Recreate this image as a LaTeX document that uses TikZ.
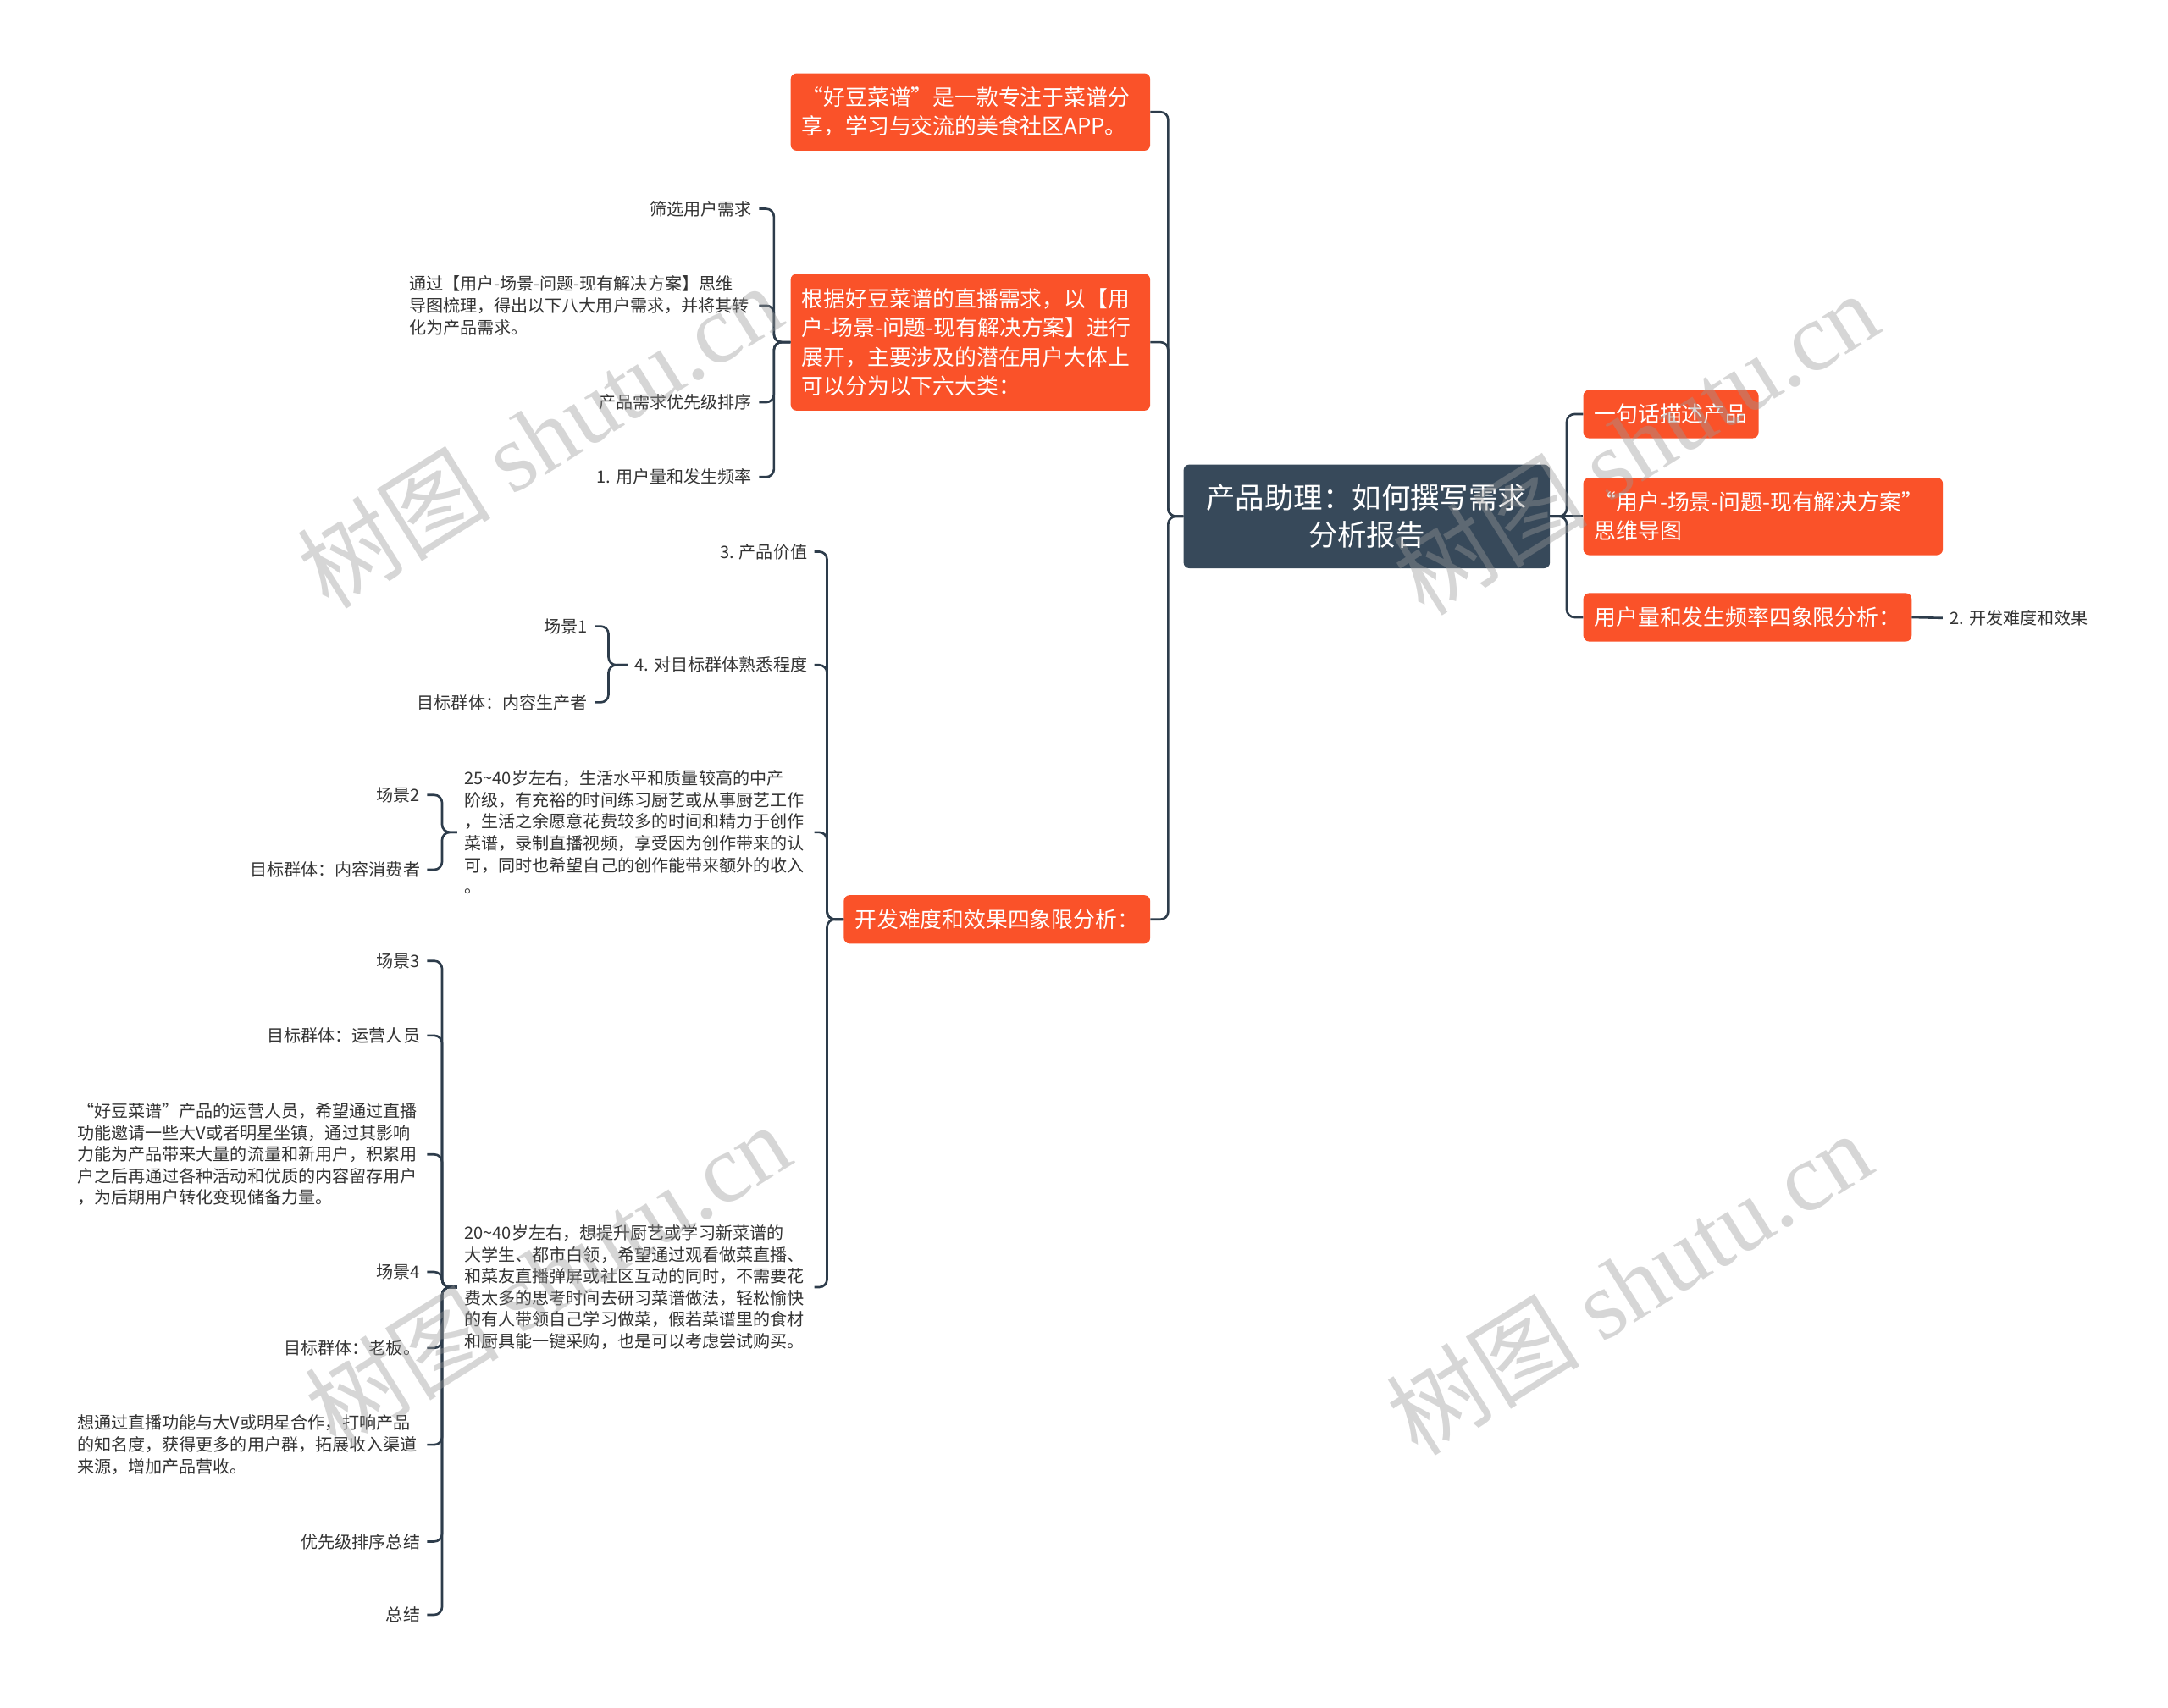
\documentclass[tikz,border=0pt]{standalone}
\usepackage{fontspec}
\setmainfont{Noto Sans CJK SC}
\newfontfamily\markfont{Liberation Serif}

\definecolor{topicred}{RGB}{250,82,41}
\definecolor{rootgray}{RGB}{55,73,90}
\definecolor{linkgray}{RGB}{45,60,75}
\definecolor{leafgray}{RGB}{51,51,51}

\begin{document}
\begin{tikzpicture}[x=0.05cm, y=-0.05cm,
  root/.style={fill=rootgray, text=white, rounded corners=6pt, align=center,
    minimum width=13.25cm, minimum height=3.75cm, font=\fontsize{30}{38.4}\selectfont},
  topic/.style={fill=topicred, text=white, rounded corners=6pt, align=left,
    inner xsep=0.4cm, inner ysep=0.2cm, minimum height=1.75cm,
    font=\fontsize{22.5}{29.9}\selectfont},
  leaf/.style={text=leafgray, align=left, inner xsep=0.25cm, inner ysep=0.1cm,
    font=\fontsize{17.5}{22.3}\selectfont},
  para/.style={leaf, text width=12.4cm},
  link/.style={draw=linkgray, line width=2.3pt, rounded corners=8pt},
  wmark/.style={rotate=32, text=black!40, text opacity=0.4,
    font=\fontsize{100}{104}\selectfont}]
  \useasboundingbox (0,0) rectangle (1568,1235);

  % Central topic
  \node[root] (root) at (988.5,373.5) {产品助理：如何撰写需求\\分析报告};

  % Right branch
  \node[topic, anchor=west] (desc) at (1145,299.5) {一句话描述产品};
  \node[topic, anchor=west, text width=12.2cm, minimum height=2.8cm] (map) at (1145,373.5)
    {“用户-场景-问题-现有解决方案”\\思维导图};
  \node[topic, anchor=west] (freq) at (1145,446.5) {用户量和发生频率四象限分析：};
  \node[leaf, anchor=west] (eff) at (1405,447) {2. 开发难度和效果};

  % Left branch
  \node[topic, anchor=east, text width=12.2cm, minimum height=2.8cm] (intro) at (832,81)
    {“好豆菜谱”是一款专注于菜谱分\\享，学习与交流的美食社区APP。};
  \node[topic, anchor=east, text width=12.2cm, minimum height=4.95cm] (need) at (832,247.5)
    {根据好豆菜谱的直播需求，以【用\\户-场景-问题-现有解决方案】进行\\展开，主要涉及的潜在用户大体上\\可以分为以下六大类：};
  \node[topic, anchor=east] (quad) at (832,665) {开发难度和效果四象限分析：};

  % Children of need
  \node[leaf, anchor=east] (filter) at (549,151) {筛选用户需求};
  \node[para, anchor=east] (sort) at (549,221)
    {通过【用户-场景-问题-现有解决方案】思维\\导图梳理，得出以下八大用户需求，并将其转\\化为产品需求。};
  \node[leaf, anchor=east] (prio) at (549,291) {产品需求优先级排序};
  \node[leaf, anchor=east] (users) at (549,345) {1. 用户量和发生频率};

  % Children of quad
  \node[leaf, anchor=east] (value) at (589,399) {3. 产品价值};
  \node[leaf, anchor=east] (famil) at (589,481) {4. 对目标群体熟悉程度};
  \node[para, anchor=east] (makers) at (589,602)
    {25\textasciitilde40岁左右，生活水平和质量较高的中产\\阶级，有充裕的时间练习厨艺或从事厨艺工作\\，生活之余愿意花费较多的时间和精力于创作\\菜谱，录制直播视频，享受因为创作带来的认\\可，同时也希望自己的创作能带来额外的收入\\。};
  \node[para, anchor=east] (viewers) at (589,931)
    {20\textasciitilde40岁左右，想提升厨艺或学习新菜谱的\\大学生、都市白领，希望通过观看做菜直播、\\和菜友直播弹屏或社区互动的同时，不需要花\\费太多的思考时间去研习菜谱做法，轻松愉快\\的有人带领自己学习做菜，假若菜谱里的食材\\和厨具能一键采购，也是可以考虑尝试购买。};

  \node[leaf, anchor=east] (scA) at (430,453) {场景1};
  \node[leaf, anchor=east] (grpA) at (430,508) {目标群体：内容生产者};

  \node[leaf, anchor=east] (scB) at (309,575) {场景2};
  \node[leaf, anchor=east] (grpB) at (309,629) {目标群体：内容消费者};

  \node[leaf, anchor=east] (scC) at (309,695) {场景3};
  \node[leaf, anchor=east] (grpC) at (309,749) {目标群体：运营人员};
  \node[para, anchor=east] (opsC) at (309,835)
    {“好豆菜谱”产品的运营人员，希望通过直播\\功能邀请一些大V或者明星坐镇，通过其影响\\力能为产品带来大量的流量和新用户，积累用\\户之后再通过各种活动和优质的内容留存用户\\，为后期用户转化变现储备力量。};
  \node[leaf, anchor=east] (scD) at (309,920) {场景4};
  \node[leaf, anchor=east] (grpD) at (309,975) {目标群体：老板。};
  \node[para, anchor=east] (bossD) at (309,1045)
    {想通过直播功能与大V或明星合作，打响产品\\的知名度，获得更多的用户群，拓展收入渠道\\来源，增加产品营收。};
  \node[leaf, anchor=east] (sumP) at (309,1115) {优先级排序总结};
  \node[leaf, anchor=east] (sumA) at (309,1168) {总结};

  % Connectors
  \foreach \c in {intro,need,quad}
    \draw[link] (root.west) -- ++(-11,0) |- (\c.east);
  \foreach \c in {desc,freq}
    \draw[link] (root.east) -- ++(12,0) |- (\c.west);
  \draw[link] (root.east) -- (map.west);
  \draw[link] (freq.east) -- (eff.west);

  \foreach \c in {filter,sort,prio,users}
    \draw[link] (need.west) -- ++(-12,0) |- (\c.east);
  \foreach \c in {value,famil,makers,viewers}
    \draw[link] (quad.west) -- ++(-12,0) |- (\c.east);
  \foreach \c in {scA,grpA}
    \draw[link] (famil.west) -- ++(-14,0) |- (\c.east);
  \foreach \c in {scB,grpB}
    \draw[link] (makers.west) -- ++(-11,0) |- (\c.east);
  \foreach \c in {scC,grpC,opsC,scD,grpD,bossD,sumP,sumA}
    \draw[link] (viewers.west) -- ++(-11,0) |- (\c.east);

  % Watermark
  \foreach \wx/\wy in {390/315, 1183/320, 396/922, 1178/928}
    \node[wmark] at (\wx,\wy) {树图 {\markfont shutu.cn}};
\end{tikzpicture}
\end{document}
